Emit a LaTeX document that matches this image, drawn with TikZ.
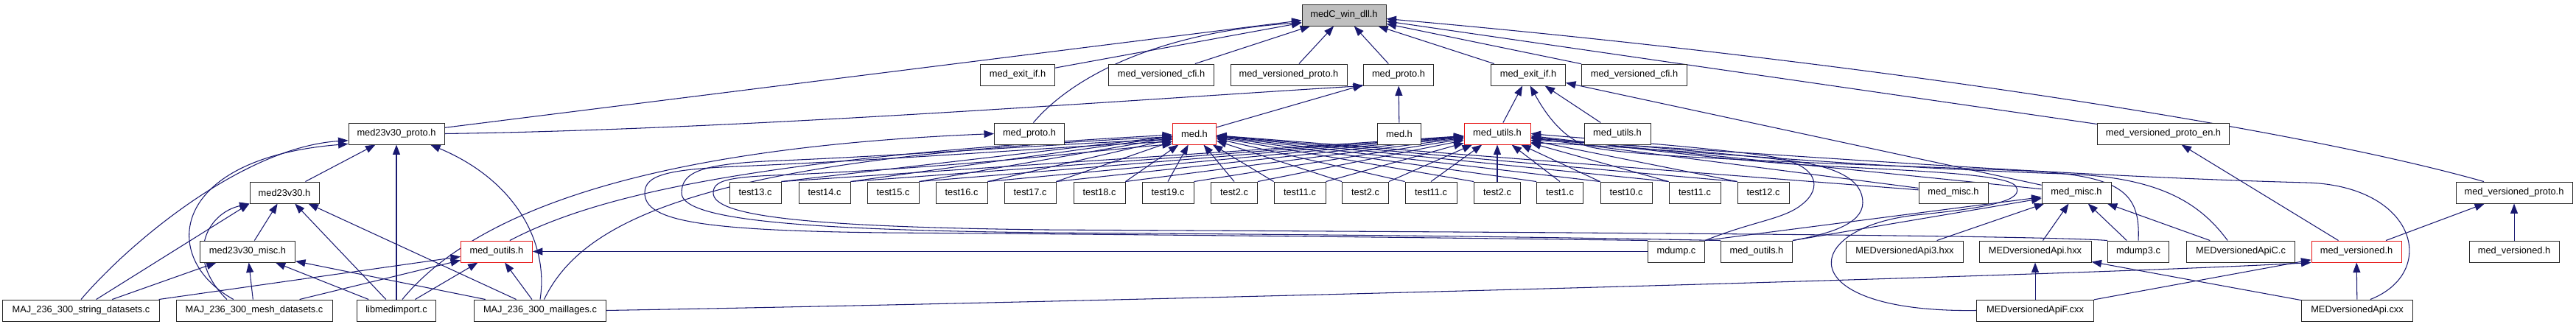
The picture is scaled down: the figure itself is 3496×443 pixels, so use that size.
\documentclass[tikz,border=0pt]{standalone}
\usepackage{fontspec}
\setmainfont{Liberation Sans}
\usetikzlibrary{arrows.meta}

\definecolor{edgeblue}{RGB}{25,25,112}
\definecolor{hotred}{RGB}{230,20,20}

\pgfdeclarelayer{back}
\pgfsetlayers{back,main}

\tikzset{
  file/.style={draw=black!85, fill=white, line width=0.55pt, minimum height=0.58cm,
    inner sep=0pt, font=\fontsize{7.3}{8.8}\selectfont},
  boxw/.style={minimum width=#1*0.02cm},
  hot/.style={file, draw=hotred},
  rootfile/.style={file, fill=black!25},
  dep/.style={draw=edgeblue, line width=0.6pt, -{Triangle[length=0.27cm,width=0.2cm]}}
}

\begin{document}
\begin{tikzpicture}[x=0.02cm, y=-0.02cm]
    \useasboundingbox (0,0) rectangle (3496,443);

    % Rang 0
    \node[rootfile, boxw=114] (root) at (1824,20.5) {medC\_win\_dll.h};

    % Rang 1
    \node[file, boxw=101] (exitA)   at (1381,101.5) {med\_exit\_if.h};
    \node[file, boxw=143] (cfiA)    at (1576,101.5) {med\_versioned\_cfi.h};
    \node[file, boxw=158] (vprotoA) at (1749,101.5) {med\_versioned\_proto.h};
    \node[file, boxw=95]  (protoA)  at (1898,101.5) {med\_proto.h};
    \node[file, boxw=101] (exitB)   at (2074,101.5) {med\_exit\_if.h};
    \node[file, boxw=143] (cfiB)    at (2218,101.5) {med\_versioned\_cfi.h};

    % Rang 2
    \node[file, boxw=130] (p23proto) at (538,181.5)  {med23v30\_proto.h};
    \node[file, boxw=95]  (protoB)   at (1397,181.5) {med\_proto.h};
    \node[hot,  boxw=59]  (medA)     at (1621,181.5) {med.h};
    \node[file, boxw=59]  (medB)     at (1899,181.5) {med.h};
    \node[hot,  boxw=90]  (utilsA)   at (2032,181.5) {med\_utils.h};
    \node[file, boxw=90]  (utilsB)   at (2195,181.5) {med\_utils.h};
    \node[file, boxw=179] (vprotoen) at (2936,181.5) {med\_versioned\_proto\_en.h};

    % Rang 3
    \node[file, boxw=94] (m23) at (386,261.5) {med23v30.h};
    \foreach \nm/\x/\bw/\lab in {t13/1025/70/test13.c, t14/1119/70/test14.c,
        t15/1212/70/test15.c, t16/1305/70/test16.c, t17/1398/70/test17.c,
        t18/1492/70/test18.c, t19/1585/70/test19.c, t2a/1675/63/test2.c,
        t11a/1764/70/test11.c, t2b/1853/63/test2.c, t11b/1942/70/test11.c,
        t2c/2032/63/test2.c, t1/2117/63/test1.c, t10/2207/70/test10.c,
        t11c/2300/70/test11.c, t12/2393/70/test12.c}
        \node[file, boxw=\bw] (\nm) at (\x,261.5) {\lab};
    \node[file, boxw=94]  (miscA)   at (2651,261.5) {med\_misc.h};
    \node[file, boxw=94]  (miscB)   at (2818,261.5) {med\_misc.h};
    \node[file, boxw=158] (vprotoB) at (3412,261.5) {med\_versioned\_proto.h};

    % Rang 4
    \node[file, boxw=129] (m23misc) at (336,341.5)  {med23v30\_misc.h};
    \node[hot,  boxw=97]  (outilsA) at (674,341.5)  {med\_outils.h};
    \node[file, boxw=77]  (mdump)   at (2275,341.5) {mdump.c};
    \node[file, boxw=97]  (outilsB) at (2384,341.5) {med\_outils.h};
    \node[file, boxw=159] (apih3)   at (2585,341.5) {MEDversionedApi3.hxx};
    \node[file, boxw=152] (apih)    at (2762,341.5) {MEDversionedApi.hxx};
    \node[file, boxw=83]  (mdumpB)  at (2902,341.5) {mdump3.c};
    \node[file, boxw=147] (apic)    at (3041,341.5) {MEDversionedApiC.c};
    \node[hot,  boxw=122] (versA)   at (3198,341.5) {med\_versioned.h};
    \node[file, boxw=122] (versB)   at (3412,341.5) {med\_versioned.h};

    % Rang 5
    \node[file, boxw=213] (strds)  at (110,421.5)  {MAJ\_236\_300\_string\_datasets.c};
    \node[file, boxw=212] (meshds) at (345,421.5)  {MAJ\_236\_300\_mesh\_datasets.c};
    \node[file, boxw=107] (libmed) at (538,421.5)  {libmedimport.c};
    \node[file, boxw=179] (maj)    at (733,421.5)  {MAJ\_236\_300\_maillages.c};
    \node[file, boxw=159] (apif)   at (2762,421.5) {MEDversionedApiF.cxx};
    \node[file, boxw=151] (apicxx) at (3199,421.5) {MEDversionedApi.cxx};

    \begin{pgfonlayer}{back}
    % vers medC_win_dll.h
    \foreach \src in {p23proto,exitA,cfiA,vprotoA,protoA,exitB,cfiB,vprotoen}
        \draw[dep] (\src) -- (root);
    \draw[dep] (protoB.70) .. controls (1450,110) and (1560,45) .. (root.190);
    \draw[dep] (vprotoB.160) .. controls (3100,170) and (2500,80) .. (root.-5);

    % vers med_proto.h et med_exit_if.h
    \draw[dep] (p23proto.east) .. controls (1000,176) and (1500,138) .. (protoA.south west);
    \draw[dep] (medA) -- (protoA);
    \draw[dep] (medB) -- (protoA);
    \draw[dep] (utilsA) -- (exitB);
    \draw[dep] (utilsB) -- (exitB);
    \draw[dep] (miscB) -- (exitB);
    \draw[dep] (mdumpB.north) .. controls (2905,262) and (2880,238) .. (2750,232)
        .. controls (2500,222) and (2230,215) .. (2160,200)
        .. controls (2120,190) and (2095,150) .. (exitB.-80);

    % les tests
    \foreach \nm/\ma/\ua in {t13/north east/north east, t14/north east/north east,
        t15/north east/north east, t16/north east/north east, t17/north east/north east,
        t18/north east/north east, t19/north/north east, t2a/north/north east,
        t11a/north west/north east, t2b/north west/north east, t11b/north west/north,
        t2c/north west/north, t1/north west/north, t10/north west/north west,
        t11c/north west/north west, t12/north west/north west}
    {
        \draw[dep] (\nm.\ma) -- (medA);
        \draw[dep] (\nm.\ua) -- (utilsA);
    }

    % partie gauche (med23v30)
    \draw[dep] (m23) -- (p23proto);
    \draw[dep] (m23misc) -- (m23);
    \draw[dep] (strds.north) .. controls (175,330) and (330,200) .. (p23proto.188);
    \draw[dep] (strds.36) -- (m23.south west);
    \draw[dep] (strds) -- (m23misc);
    \draw[dep] (strds) -- (outilsA);
    \draw[dep] (meshds.152) .. controls (215,350) and (230,215) .. (p23proto.192);
    \draw[dep] (meshds.158) .. controls (250,350) and (280,290) .. (m23.south west);
    \draw[dep] (meshds) -- (m23misc);
    \draw[dep] (meshds) -- (outilsA);
    \draw[dep] (libmed) -- (p23proto);
    \draw[dep] (libmed) -- (m23);
    \draw[dep] (libmed) -- (m23misc);
    \draw[dep] (libmed) -- (outilsA);
    \draw[dep] (libmed.62) .. controls (650,280) and (900,200) .. (protoB.west);
    \draw[dep] (maj.north) .. controls (745,330) and (700,245) .. (p23proto.-18);
    \draw[dep] (maj) -- (m23);
    \draw[dep] (maj) -- (m23misc);
    \draw[dep] (maj) -- (outilsA);
    \draw[dep] (maj.70) .. controls (790,300) and (950,215) .. (medA.188);
    \draw[dep] (maj.east) .. controls (1500,410) and (2800,375) .. (versA.south west);
    \draw[dep] (outilsA.40) .. controls (800,270) and (1000,215) .. (medA.183);

    % sources du bas a droite
    \draw[dep] (mdump.west) -- (outilsA.east);
    \draw[dep] (mdump.north east) -- (miscB);
    \draw[dep] (mdump.north west) .. controls (1900,322) and (1500,318) .. (1200,316)
        .. controls (950,313) and (875,300) .. (875,262)
        .. controls (875,238) and (905,230) .. (1000,226)
        .. controls (1250,215) and (1450,198) .. (medA.200);
    \draw[dep] (mdump.north east) .. controls (2380,300) and (2420,298) .. (2445,278)
        .. controls (2475,255) and (2468,222) .. (2400,212)
        .. controls (2300,198) and (2150,188) .. (utilsA.0);
    \draw[dep] (outilsB.north east) -- (miscB);
    \draw[dep] (outilsB.north west) .. controls (2000,320) and (1700,318) .. (1420,316)
        .. controls (1080,312) and (925,298) .. (925,262)
        .. controls (925,232) and (955,222) .. (1060,218)
        .. controls (1250,210) and (1450,194) .. (medA.195);
    \draw[dep] (outilsB.north east) .. controls (2480,318) and (2528,305) .. (2528,275)
        .. controls (2528,245) and (2495,225) .. (2420,217)
        .. controls (2300,204) and (2150,192) .. (utilsA.-8);
    \draw[dep] (mdumpB.north west) .. controls (2750,318) and (1800,314) .. (1420,312)
        .. controls (1080,308) and (968,292) .. (968,262)
        .. controls (968,246) and (985,241) .. (1050,238)
        .. controls (1300,228) and (1480,205) .. (medA.205);
    \draw[dep] (mdumpB) -- (miscB);
    \draw[dep] (apih3) -- (miscB);
    \draw[dep] (apih) -- (miscB);
    \draw[dep] (apic) -- (miscB);
    \draw[dep] (apic.140) .. controls (2985,275) and (2930,240) .. (2800,236)
        .. controls (2500,226) and (2250,200) .. (utilsA.-15);
    \draw[dep] (miscA) -- (medA);
    \draw[dep] (miscA) -- (utilsA);
    \draw[dep] (miscB) -- (utilsA);

    % med_versioned
    \draw[dep] (versA) -- (vprotoen);
    \draw[dep] (versA) -- (vprotoB);
    \draw[dep] (versB) -- (vprotoB);
    \draw[dep] (apif) -- (apih);
    \draw[dep] (apif) -- (versA);
    \draw[dep] (apif.west) .. controls (2430,425) and (2440,310) .. (2600,292)
        .. controls (2700,282) and (2750,272) .. (2735,252)
        .. controls (2720,236) and (2600,232) .. (2450,224)
        .. controls (2300,214) and (2150,192) .. (utilsA.-4);
    \draw[dep] (apicxx) -- (apih);
    \draw[dep] (apicxx) -- (versA);
    \draw[dep] (apicxx.40) .. controls (3310,370) and (3280,252) .. (3130,248)
        .. controls (2750,238) and (2300,200) .. (utilsA.-11);
    \end{pgfonlayer}
\end{tikzpicture}
\end{document}
